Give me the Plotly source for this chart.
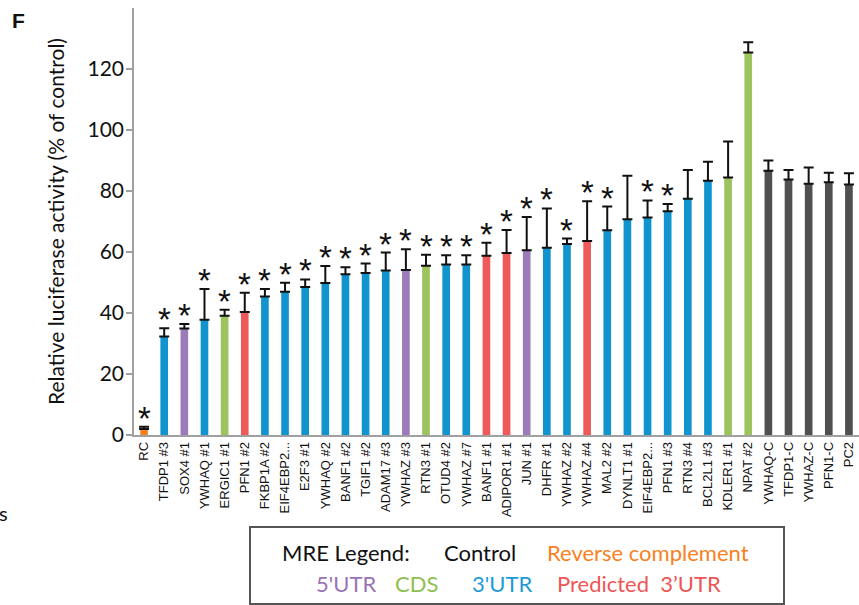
import plotly.graph_objects as go

# ---- data ----
categories = ["RC", "TFDP1 #3", "SOX4 #1", "YWHAQ #1", "ERGIC1 #1", "PFN1 #2", "FKBP1A #2",
              "EIF4EBP2...", "E2F3 #1", "YWHAQ #2", "BANF1 #2", "TGIF1 #2", "ADAM17 #3",
              "YWHAZ #3", "RTN3 #1", "OTUD4 #2", "YWHAZ #7", "BANF1 #1", "ADIPOR1 #1", "JUN #1",
              "DHFR #1", "YWHAZ #2", "YWHAZ #4", "MAL2 #2", "DYNLT1 #1", "EIF4EBP2...", "PFN1 #3",
              "RTN3 #4", "BCL2L1 #3", "KDLER1 #1", "NPAT #2", "YWHAQ-C", "TFDP1-C", "YWHAZ-C",
              "PFN1-C", "PC2"]
activity = [2.0, 32.3, 34.9, 37.8, 39.1, 40.3, 45.4, 47.0, 48.5, 49.8, 52.7, 53.1, 53.9, 54.1,
            55.5, 55.9, 55.9, 58.8, 59.7, 60.6, 61.4, 62.6, 63.6, 67.1, 70.7, 71.3, 73.4, 77.5,
            83.4, 84.4, 125.4, 86.6, 83.8, 82.4, 82.9, 82.1]
error = [0.7, 2.7, 1.5, 10.1, 2.0, 6.3, 2.5, 2.9, 2.5, 5.6, 2.3, 3.1, 5.9, 6.8, 3.6, 3.0, 3.0,
         4.2, 7.5, 10.9, 12.9, 1.8, 13.0, 7.8, 14.3, 5.6, 2.3, 9.4, 6.2, 11.8, 3.4, 3.4, 3.1,
         5.3, 3.1, 3.7]
region = ["RC", "3'UTR", "5'UTR", "3'UTR", "CDS", "Pred", "3'UTR", "3'UTR", "3'UTR", "3'UTR",
          "3'UTR", "3'UTR", "3'UTR", "5'UTR", "CDS", "3'UTR", "3'UTR", "Pred", "Pred", "5'UTR",
          "3'UTR", "3'UTR", "Pred", "3'UTR", "3'UTR", "3'UTR", "3'UTR", "3'UTR", "3'UTR", "CDS",
          "CDS", "Control", "Control", "Control", "Control", "Control"]
significant = [True] * 24 + [False, True, True] + [False] * 9

palette = {"RC": "#F7811E", "5'UTR": "#9B7BB8", "CDS": "#9DC35F", "3'UTR": "#1193CD",
           "Pred": "#EE5A5A", "Control": "#505050"}

xs = list(range(len(categories)))
colors = [palette[r] for r in region]

fig = go.Figure()
fig.add_trace(go.Bar(
    x=xs, y=activity, marker=dict(color=colors, line=dict(width=0)),
    error_y=dict(type="data", symmetric=False, array=error, arrayminus=[0] * len(error),
                 color="#111111", thickness=2, width=5),
    showlegend=False,
))

for x, v, e, s in zip(xs, activity, error, significant):
    if s:
        fig.add_annotation(x=x, y=v + e, text="*", showarrow=False, yanchor="bottom",
                           yshift=-12, font=dict(family="Liberation Sans", size=33, color="#111111"))

W, H = 859, 605
L, R, T, B = 134, 0, 8, 170
pw, ph = W - L - R, H - T - B


def px(xp):
    return (xp - L) / pw


def py(yp):
    return (H - B - yp) / ph


fig.add_shape(type="rect", xref="paper", yref="paper", x0=px(250), x1=px(784), y0=py(604),
              y1=py(527), line=dict(color="#555555", width=2), fillcolor="white")

legend_font = "Lato"
items = [("MRE Legend:", 280, 552, "#111111"), ("Control", 442, 552, "#111111"),
         ("Reverse complement", 545, 552, "#F7811E"), ("5'UTR", 314, 583, "#9B72B5"),
         ("CDS", 393, 583, "#8DC050"), ("3'UTR", 470, 583, "#1E9AD6"),
         ("Predicted  3\u2019UTR", 555, 583, "#EE5555")]
for txt, xp, yp, c in items:
    fig.add_annotation(xref="paper", yref="paper", x=px(xp), y=py(yp), text=txt, showarrow=False,
                       xanchor="left", yanchor="middle",
                       font=dict(family=legend_font, size=22, color=c))

fig.add_annotation(xref="paper", yref="paper", x=px(10), y=py(20), text="<b>F</b>",
                   showarrow=False, xanchor="left", yanchor="middle",
                   font=dict(family="Liberation Sans", size=21, color="#111111"))
fig.add_annotation(xref="paper", yref="paper", x=px(-3), y=py(513), text="s",
                   showarrow=False, xanchor="left", yanchor="middle",
                   font=dict(family=legend_font, size=20, color="#111111"))

fig.update_layout(
    width=W, height=H, margin=dict(l=L, r=R, t=T, b=B, autoexpand=False),
    plot_bgcolor="white", paper_bgcolor="white", bargap=0.62,
    xaxis=dict(range=[-0.5, len(categories) - 0.5], tickmode="array", tickvals=xs,
               ticktext=categories, tickangle=-90, showgrid=False, zeroline=False,
               automargin=False,
               showline=True, linecolor="#A0A0A0", linewidth=1.5, ticks="",
               tickfont=dict(family="Liberation Sans", size=13, color="#111111")),
    yaxis=dict(range=[0, 140], tickvals=[0, 20, 40, 60, 80, 100, 120], showgrid=False,
               automargin=False,
               zeroline=False, showline=True, linecolor="#A0A0A0", linewidth=1.5,
               ticks="outside", ticklen=6, tickcolor="#A0A0A0", tickwidth=1.5,
               ticklabelstandoff=-2,
               tickfont=dict(family=legend_font, size=21, color="#111111"),
               title=dict(text="Relative luciferase activity (% of control)", standoff=17,
                          font=dict(family=legend_font, size=21, color="#111111"))),
)

fig.write_html("out.html", config={"displayModeBar": False},
               post_script="document.body.style.margin='0';document.body.style.overflow='hidden';")
